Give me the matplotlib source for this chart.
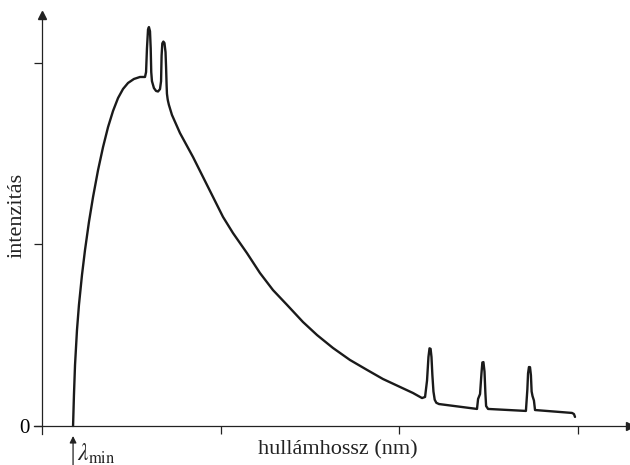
import matplotlib
matplotlib.use("Agg")
import matplotlib.pyplot as plt

plt.rcParams['font.family'] = ['Liberation Serif', 'DejaVu Serif']
plt.rcParams['mathtext.fontset'] = 'stix'

# spectrum (wavelength in tick units, intensity in tick units)
wavelength = [0.174, 0.179, 0.185, 0.196, 0.207, 0.224, 0.241, 0.263, 0.286, 0.314,
              0.342, 0.370, 0.398, 0.426, 0.454, 0.482, 0.515, 0.549, 0.577,
              0.583, 0.588, 0.594, 0.599, 0.605, 0.609, 0.612, 0.616, 0.627, 0.639,
              0.650, 0.661, 0.667, 0.670, 0.674, 0.680, 0.686, 0.692, 0.695, 0.698,
              0.700, 0.704, 0.706, 0.711, 0.728, 0.773, 0.846, 0.902, 0.958, 1.014,
              1.070, 1.148, 1.221, 1.294, 1.373, 1.462, 1.541, 1.630, 1.725, 1.821,
              1.910, 2.006, 2.078, 2.129, 2.146, 2.157, 2.165, 2.171, 2.177, 2.182,
              2.187, 2.193, 2.200, 2.209, 2.224, 2.437,
              2.443, 2.454, 2.462, 2.467, 2.473, 2.479, 2.484, 2.488, 2.499, 2.711,
              2.719, 2.723, 2.728, 2.734, 2.739, 2.743, 2.748, 2.756, 2.762, 2.969,
              2.980, 2.986]
intensity = [0.000, 0.171, 0.336, 0.529, 0.667, 0.832, 0.970, 1.124, 1.262, 1.410,
             1.537, 1.647, 1.736, 1.807, 1.857, 1.890, 1.912, 1.923, 1.923,
             1.950, 2.080, 2.185, 2.198, 2.175, 2.080, 1.950, 1.900, 1.862, 1.846,
             1.843, 1.856, 1.900, 2.040, 2.108, 2.118, 2.110, 2.060, 1.980, 1.880,
             1.830, 1.800, 1.790, 1.769, 1.714, 1.614, 1.482, 1.372, 1.262, 1.152,
             1.063, 0.953, 0.843, 0.749, 0.667, 0.573, 0.501, 0.430, 0.364, 0.309,
             0.259, 0.215, 0.182, 0.154, 0.160, 0.250, 0.380, 0.428, 0.425, 0.380,
             0.280, 0.190, 0.145, 0.128, 0.121, 0.094,
             0.149, 0.176, 0.290, 0.350, 0.352, 0.300, 0.180, 0.110, 0.094, 0.083,
             0.200, 0.290, 0.325, 0.324, 0.280, 0.190, 0.165, 0.140, 0.088, 0.072,
             0.066, 0.050]

y_ticks = [0, 1, 2]
y_ticklabels = ["0", "", ""]
x_ticks = [1, 2, 3]
lambda_min = 0.174

W, H = 630, 465
fig = plt.figure(figsize=(W / 100, H / 100), dpi=100)
ax = fig.add_axes([34 / W, (H - 434) / H, (630 - 34) / W, (434 - 15) / H])
xmin, xmax = -8 / 178.5, 588 / 178.5
ymin, ymax = -8 / 181.5, 411 / 181.5
ax.set_xlim(xmin, xmax)
ax.set_ylim(ymin, ymax)

for s in ['top', 'right']:
    ax.spines[s].set_visible(False)
ax.spines['left'].set_position(('data', 0))
ax.spines['bottom'].set_position(('data', 0))
for s in ['left', 'bottom']:
    ax.spines[s].set_linewidth(0.9)
    ax.spines[s].set_color('#222222')

ax.set_yticks(y_ticks)
ax.set_yticklabels(y_ticklabels)
ax.set_xticks(x_ticks)
ax.set_xticklabels([])
ax.tick_params(axis='y', direction='out', length=6, width=0.9, color='#222222',
               labelsize=15, pad=3)
ax.tick_params(axis='x', direction='out', length=6, width=0.9, color='#222222')

# axis arrowheads
ax.plot([0], [ymax], marker='^', color='#222222', markersize=6, clip_on=False)
ax.plot([xmax], [0], marker='>', color='#222222', markersize=6, clip_on=False)

ax.plot(wavelength, intensity, color='#1a1a1a', lw=1.7, solid_joinstyle='round',
        solid_capstyle='round', clip_on=False)

fig.text(17 / W, 1 - 215 / H, "intenzitás", rotation=90, ha='center', va='center',
         fontsize=16, color='#222222')
fig.text(338 / W, 1 - 450 / H, "hullámhossz (nm)", ha='center', va='center',
         fontsize=16, color='#222222')

ax.annotate("", xy=(lambda_min, -10 / 181.5), xytext=(lambda_min, -40 / 181.5),
            arrowprops=dict(arrowstyle='-|>', color='#222222', lw=0.9,
                            mutation_scale=10, shrinkA=0, shrinkB=0),
            annotation_clip=False)
ax.text(lambda_min + 4 / 178.5, -28 / 181.5, r'$\lambda_{\mathrm{min}}$',
        fontsize=17, ha='left', va='center', color='#222222', clip_on=False)

fig.savefig("out.png", dpi=100)
